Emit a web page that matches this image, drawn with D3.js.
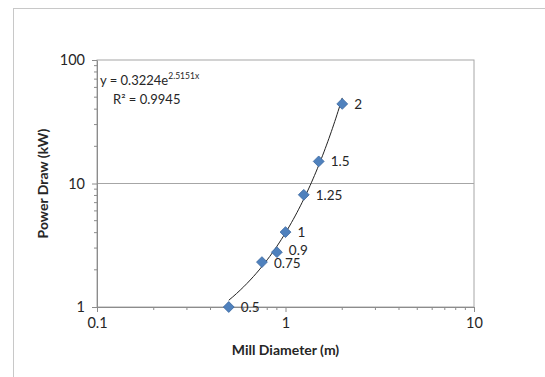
<!DOCTYPE html>
<html>
<head>
<meta charset="utf-8">
<script src="https://cdn.jsdelivr.net/npm/d3@7"></script>
<style>
  body { margin: 0; background: #fff; }
  text { font-family: Lato, "Open Sans", sans-serif; fill: #262626; }
  .axis path, .axis line { stroke: #8c8c8c; }
  .axis text { font-size: 14.5px; }
  .axis-title { font-size: 14px; font-weight: bold; }
</style>
</head>
<body>
<svg id="chart"></svg>
<script>
// data
const diameters = [0.5, 0.75, 0.9, 1, 1.25, 1.5, 2];
const power = [1.0, 2.31, 2.78, 4.04, 8.1, 15.1, 44.1];
const pointLabels = ['0.5', '0.75', '0.9', '1', '1.25', '1.5', '2'];
const xTicks = [0.1, 1, 10];
const yTicks = [1, 10, 100];
// exponential trendline shown on the chart
const trendA = 0.3224;
const trendB = 2.5151;
const trendX = d3.range(0.5, 2.0001, 0.025);

const width = 545, height = 377;
const margin = { top: 60, right: 71, bottom: 70, left: 97 };
const innerW = width - margin.left - margin.right;
const innerH = height - margin.top - margin.bottom;

const svg = d3.select('#chart').attr('width', width).attr('height', height);

// outer frame
svg.append('rect')
  .attr('x', 13.5).attr('y', 8.5)
  .attr('width', 540).attr('height', 380)
  .attr('fill', 'none').attr('stroke', '#c8c8c8');

const chart = svg.append('g').attr('transform', `translate(${margin.left},${margin.top})`);

const x = d3.scaleLog().domain([0.1, 10]).range([0, innerW]);
const y = d3.scaleLog().domain([1, 100]).range([innerH, 0]);

// plot area border (top / right) and gridline at 10
chart.append('rect')
  .attr('width', innerW).attr('height', innerH)
  .attr('fill', 'none').attr('stroke', '#a6a6a6');
chart.append('line')
  .attr('x1', 0).attr('x2', innerW)
  .attr('y1', y(10)).attr('y2', y(10))
  .attr('stroke', '#a6a6a6');

// minor ticks
const minorX = [];
const minorY = [];
[0.1, 1].forEach(d => { for (let k = 2; k < 10; k++) minorX.push(d * k); });
[1, 10].forEach(d => { for (let k = 2; k < 10; k++) minorY.push(d * k); });

chart.selectAll('.minor-x').data(minorX).join('line')
  .attr('x1', d => x(d)).attr('x2', d => x(d))
  .attr('y1', innerH).attr('y2', innerH + 3)
  .attr('stroke', '#8c8c8c');
chart.selectAll('.minor-y').data(minorY).join('line')
  .attr('y1', d => y(d)).attr('y2', d => y(d))
  .attr('x1', 0).attr('x2', -3)
  .attr('stroke', '#8c8c8c');

const xAxis = d3.axisBottom(x).tickValues(xTicks).tickFormat(d3.format('')).tickSize(5).tickSizeOuter(0).tickPadding(6);
const yAxis = d3.axisLeft(y).tickValues(yTicks).tickFormat(d3.format('')).tickSize(5).tickSizeOuter(0).tickPadding(7);

chart.append('g').attr('class', 'axis')
  .attr('transform', `translate(0,${innerH})`)
  .call(xAxis);
chart.append('g').attr('class', 'axis').call(yAxis);

// trendline
const line = d3.line()
  .x(d => x(d))
  .y(d => y(trendA * Math.exp(trendB * d)))
  .curve(d3.curveMonotoneX);
chart.append('path')
  .datum(trendX)
  .attr('d', line)
  .attr('fill', 'none')
  .attr('stroke', '#222')
  .attr('stroke-width', 1);

// markers
const points = diameters.map((d, i) => ({ x: d, y: power[i], label: pointLabels[i] }));
chart.selectAll('.pt').data(points).join('path')
  .attr('class', 'pt')
  .attr('transform', d => `translate(${x(d.x)},${y(d.y)})`)
  .attr('d', d3.symbol().type(d3.symbolDiamond2).size(75))
  .attr('fill', '#4f81bd')
  .attr('stroke', '#3a67a0')
  .attr('stroke-width', 0.8);

chart.selectAll('.pt-label').data(points).join('text')
  .attr('class', 'pt-label')
  .attr('x', d => x(d.x) + 12)
  .attr('y', d => y(d.y))
  .attr('dy', d => d.label === '0.9' ? '0.2em' : d.label === '0.75' ? '0.45em' : '0.35em')
  .style('font-size', '13.5px')
  .text(d => d.label);

// equation
const eq = chart.append('text').attr('x', 3).attr('y', 25).style('font-size', '13px');
eq.append('tspan').text('y = 0.3224e');
eq.append('tspan').attr('dy', -6).style('font-size', '8.5px').text('2.5151x');
chart.append('text').attr('x', 16).attr('y', 44).style('font-size', '13px').text('R² = 0.9945');

// axis titles
svg.append('text')
  .attr('class', 'axis-title')
  .attr('x', margin.left + innerW / 2)
  .attr('y', 355)
  .attr('text-anchor', 'middle')
  .text('Mill Diameter (m)');
svg.append('text')
  .attr('class', 'axis-title')
  .attr('transform', `translate(48,${margin.top + innerH / 2}) rotate(-90)`)
  .attr('text-anchor', 'middle')
  .text('Power Draw (kW)');
</script>
</body>
</html>
